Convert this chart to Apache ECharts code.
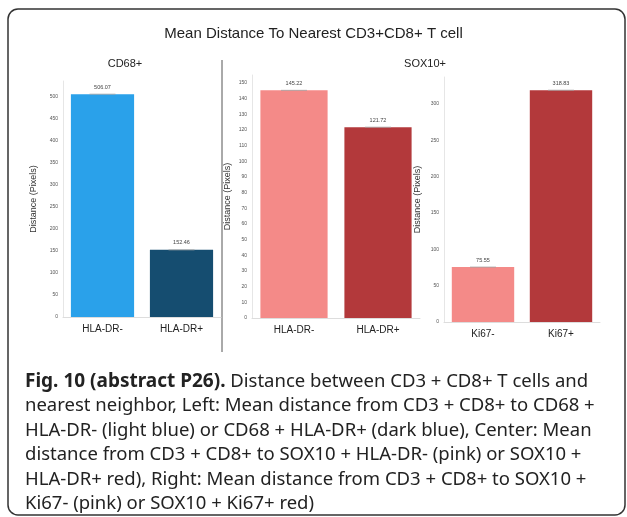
<!DOCTYPE html>
<html>
<head>
<meta charset="utf-8">
<script src="https://cdn.jsdelivr.net/npm/echarts@6/dist/echarts.min.js"></script>
<style>
  html, body { margin: 0; padding: 0; background: #fff; }
  #chart { width: 627px; height: 517px; }
</style>
</head>
<body>
<div id="chart"></div>
<script>
// data
var cd68Cats = ['HLA-DR-', 'HLA-DR+'];
var cd68Vals = [506.07, 152.46];
var soxDrCats = ['HLA-DR-', 'HLA-DR+'];
var soxDrVals = [145.22, 121.72];
var ki67Cats = ['Ki67-', 'Ki67+'];
var ki67Vals = [75.55, 318.83];

var blueCols = ['#2aa1ea', '#154d70'];
var redCols = ['#f48a88', '#b3393b'];

var captionLines = [
	'{b|Fig. 10 (abstract P26).} Distance between CD3 + CD8+ T cells and',
	'nearest neighbor, Left: Mean distance from CD3 + CD8+ to CD68 +',
	'HLA-DR- (light blue) or CD68 + HLA-DR+ (dark blue), Center: Mean',
	'distance from CD3 + CD8+ to SOX10 + HLA-DR- (pink) or SOX10 +',
	'HLA-DR+ red), Right: Mean distance from CD3 + CD8+ to SOX10 +',
	'Ki67- (pink) or SOX10 + Ki67+ red)'
];

var myChart = echarts.init(document.getElementById('chart'));

function yAxis(idx, max, interval, gap) {
	return {
		type : 'value',
		gridIndex : idx,
		min : 0,
		max : max,
		interval : interval,
		name : 'Distance (Pixels)',
		nameLocation : 'middle',
		nameGap : gap,
		nameTextStyle : { fontSize : 9, color : '#333', fontFamily : 'Liberation Sans' },
		axisLine : { show : true, lineStyle : { color : '#e6e6e6' } },
		axisTick : { show : false },
		splitLine : { show : false },
		axisLabel : { fontSize : 5, color : '#555', margin : 5, showMaxLabel : false }
	};
}

function xAxis(idx, cats) {
	return {
		type : 'category',
		gridIndex : idx,
		data : cats,
		axisLine : { lineStyle : { color : '#dddddd' } },
		axisTick : { show : false },
		axisLabel : { fontSize : 10, color : '#222', margin : 7, fontFamily : 'Liberation Sans' }
	};
}

function barSeries(idx, vals, cols) {
	return {
		type : 'bar',
		xAxisIndex : idx,
		yAxisIndex : idx,
		barCategoryGap : '20%',
		data : vals.map(function(v, i) {
			return { value : v, itemStyle : { color : cols[i] } };
		}),
		label : {
			show : true,
			position : 'top',
			distance : 4,
			fontSize : 5.5,
			color : '#444',
			formatter : function(p) { return p.value.toFixed(2); }
		}
	};
}

// small error-bar caps sitting on the bar tops
function capSeries(idx, vals) {
	return {
		type : 'scatter',
		xAxisIndex : idx,
		yAxisIndex : idx,
		symbol : 'rect',
		symbolSize : [26, 1],
		itemStyle : { color : '#a0a0a0' },
		silent : true,
		z : 5,
		data : vals
	};
}

var option = {
	animation : false,
	backgroundColor : '#fff',
	title : [ {
		text : 'Mean Distance To Nearest CD3+CD8+ T cell',
		left : 'center',
		top : 21,
		textStyle : { fontSize : 15, fontWeight : 'normal', color : '#222', fontFamily : 'Liberation Sans' }
	}, {
		text : 'CD68+',
		left : 120,
		top : 53,
		textAlign : 'center',
		textStyle : { fontSize : 11, fontWeight : 'normal', color : '#222', fontFamily : 'Liberation Sans' }
	}, {
		text : 'SOX10+',
		left : 420,
		top : 53,
		textAlign : 'center',
		textStyle : { fontSize : 11, fontWeight : 'normal', color : '#222', fontFamily : 'Liberation Sans' }
	} ],
	grid : [
		{ left : 63, top : 81, width : 158, height : 236 },
		{ left : 252, top : 75, width : 168, height : 243 },
		{ left : 444, top : 77, width : 156, height : 245 }
	],
	xAxis : [ xAxis(0, cd68Cats), xAxis(1, soxDrCats), xAxis(2, ki67Cats) ],
	yAxis : [ yAxis(0, 536, 50, 25), yAxis(1, 155, 10, 20), yAxis(2, 337, 50, 22) ],
	series : [
		barSeries(0, cd68Vals, blueCols),
		barSeries(1, soxDrVals, redCols),
		barSeries(2, ki67Vals, redCols),
		capSeries(0, cd68Vals),
		capSeries(1, soxDrVals),
		capSeries(2, ki67Vals)
	],
	graphic : [ {
		type : 'rect',
		shape : { x : 8, y : 9, width : 617, height : 506, r : 10 },
		style : { fill : 'none', stroke : '#333', lineWidth : 1.5 }
	}, {
		type : 'line',
		shape : { x1 : 222, y1 : 60, x2 : 222, y2 : 352 },
		style : { stroke : '#555', lineWidth : 1 }
	}, {
		type : 'text',
		left : 25,
		top : 369,
		style : {
			text : captionLines.join('\n'),
			fontSize : 18.5,
			lineHeight : 24.5,
			fill : '#222',
			fontFamily : 'Noto Sans',
			rich : {
				b : { fontWeight : 'bold', fontSize : 19, fontFamily : 'Noto Sans', fill : '#222', lineHeight : 24.5 }
			}
		}
	} ]
};

myChart.setOption(option);
</script>
</body>
</html>
